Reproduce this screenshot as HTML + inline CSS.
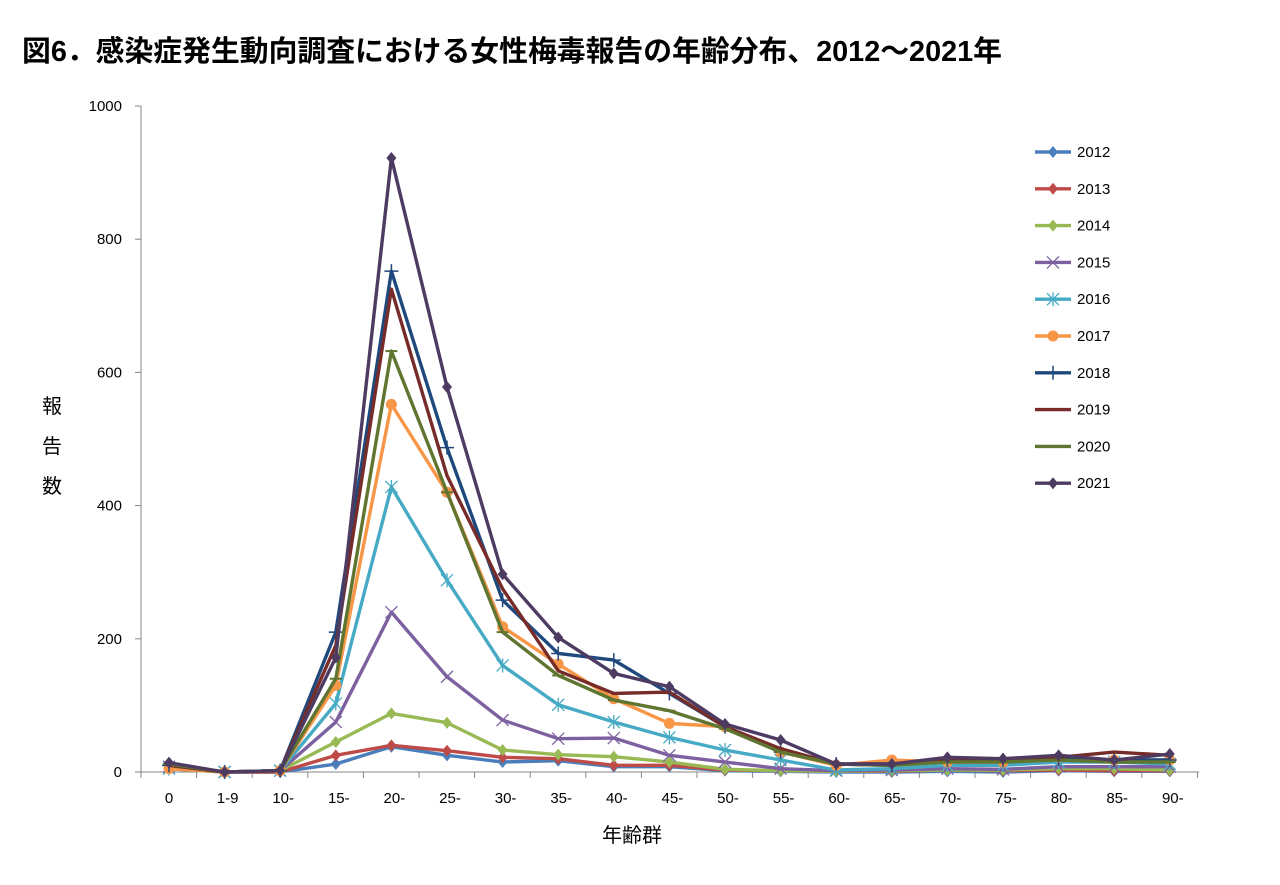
<!DOCTYPE html>
<html><head><meta charset="utf-8"><style>
body{margin:0;background:#fff;width:1280px;height:880px;overflow:hidden}
svg text{font-family:"Liberation Sans","Noto Sans CJK JP",sans-serif}
</style></head><body>
<svg id="s" width="1280" height="880" xmlns="http://www.w3.org/2000/svg">
<text x="22" y="61" font-size="29" font-weight="bold" fill="#000" textLength="980" lengthAdjust="spacingAndGlyphs">図6．感染症発生動向調査における女性梅毒報告の年齢分布、2012～2021年</text>
<g font-size="15" fill="#000">
<text x="52" y="413" font-size="20" text-anchor="middle">報</text>
<text x="52" y="453" font-size="20" text-anchor="middle">告</text>
<text x="52" y="493" font-size="20" text-anchor="middle">数</text>
<text x="632" y="842" font-size="20" text-anchor="middle">年齢群</text>
</g>
</svg>
<script>
const s=document.getElementById('s'),NS='http://www.w3.org/2000/svg';
function el(t,a,p){const e=document.createElementNS(NS,t);for(const k in a)e.setAttribute(k,a[k]);(p||s).appendChild(e);return e}
const X=i=>169+i*55.6, Y=v=>772-v*0.666;
el('line',{x1:141,y1:106,x2:141,y2:772,stroke:'#868686','stroke-width':1});
el('line',{x1:141,y1:772,x2:1199,y2:772,stroke:'#868686','stroke-width':1});
for(let v=0;v<=1000;v+=200){el('line',{x1:135,y1:Y(v),x2:141,y2:Y(v),stroke:'#868686'});
 const t=el('text',{x:122,y:Y(v)+5,'font-size':15,'text-anchor':'end'});t.textContent=v;}
const labs=['0','1-9','10-','15-','20-','25-','30-','35-','40-','45-','50-','55-','60-','65-','70-','75-','80-','85-','90-'];
for(let i=0;i<=19;i++){const x=141+i*55.6;el('line',{x1:x,y1:772,x2:x,y2:778,stroke:'#868686'});}
labs.forEach((l,i)=>{const t=el('text',{x:X(i)+(l.length>1?3:0),y:803,'font-size':15,'text-anchor':'middle'});t.textContent=l;});
const S=[
['2012','#4a7ebb','d',[5,0,0,12,38,25,15,17,8,8,2,1,0,0,1,0,2,1,1]],
['2013','#be4b48','d',[8,0,0,25,40,32,22,20,10,10,3,2,1,1,3,2,3,2,2]],
['2014','#98b954','d',[10,0,2,45,88,74,33,26,23,15,4,2,1,2,3,3,5,5,3]],
['2015','#7d60a0','x',[8,0,2,75,240,143,78,50,51,25,15,5,2,3,5,4,8,8,8]],
['2016','#46aac5','a',[5,0,2,103,428,288,160,101,75,52,33,18,3,5,10,10,15,15,12]],
['2017','#f79646','o',[5,0,2,130,552,420,218,162,110,73,68,30,10,18,15,15,22,18,18]],
['2018','#1f497d','p',[10,0,2,210,752,487,258,178,168,118,68,30,12,10,18,18,20,18,18]],
['2019','#772c2a','n',[10,0,2,190,725,445,275,152,118,120,68,35,12,12,20,18,22,30,25]],
['2020','#5f7530','m',[12,0,2,140,632,420,210,145,108,92,65,30,12,10,15,15,18,15,15]],
['2021','#4d3b62','d',[14,0,2,172,922,578,297,202,148,128,72,48,12,12,22,20,25,18,27]]];
function mk(t,x,y,c,g){
 if(t=='d')el('polygon',{points:`${x},${y-6} ${x+5},${y} ${x},${y+6} ${x-5},${y}`,fill:c},g);
 else if(t=='o')el('circle',{cx:x,cy:y,r:5.5,fill:c},g);
 else if(t=='x')el('path',{d:`M${x-6} ${y-6}L${x+6} ${y+6}M${x-6} ${y+6}L${x+6} ${y-6}`,stroke:c,'stroke-width':1.3},g);
 else if(t=='p')el('path',{d:`M${x-7} ${y}H${x+7}M${x} ${y-7}V${y+7}`,stroke:c,'stroke-width':1.5},g);
 else if(t=='a')el('path',{d:`M${x-6} ${y-6}L${x+6} ${y+6}M${x-6} ${y+6}L${x+6} ${y-6}M${x} ${y-7}V${y+7}`,stroke:c,'stroke-width':1.3},g);
 else if(t=='m')el('path',{d:`M${x-6} ${y}H${x+6}`,stroke:c,'stroke-width':2},g);
}
S.forEach((sr,k)=>{const [n,c,m,d]=sr;const g=el('g',{});
 el('polyline',{points:d.map((v,i)=>X(i)+','+Y(v)).join(' '),fill:'none',stroke:c,'stroke-width':3.4,'stroke-linejoin':'round'},g);
 d.forEach((v,i)=>mk(m,X(i),Y(v),c,g));
 const ly=152+k*36.8;
 el('line',{x1:1035,y1:ly,x2:1071,y2:ly,stroke:c,'stroke-width':3.4},g);mk(m,1053,ly,c,g);
 const t=el('text',{x:1077,y:ly+5,'font-size':15},g);t.textContent=n;});
</script>
</body></html>
